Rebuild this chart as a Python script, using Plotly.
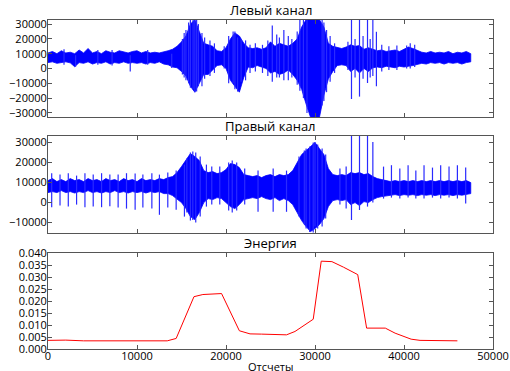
import plotly.graph_objects as go

# ---------------- data ----------------
left_x = [0, 500, 1000, 1500, 2000, 2500, 3000, 3500, 4000, 4500, 5000, 5500, 6000, 6500,
          7000, 7500, 8000, 8500, 9000, 9500, 10000, 10500, 11000, 11500, 12000, 12500,
          13000, 13500, 14000, 14500, 15000, 15500, 16000, 16500, 17000, 17500, 18000,
          18500, 19000, 19500, 20000, 20500, 21000, 21500, 22000, 22500, 23000, 23500,
          24000, 24500, 25000, 25500, 26000, 26500, 27000, 27500, 28000, 28500, 29000,
          29500, 30000, 30500, 31000, 31500, 32000, 32500, 33000, 33500, 34000, 34500,
          35000, 35500, 36000, 36500, 37000, 37500, 38000, 38500, 39000, 39500, 40000,
          40500, 41000, 41500, 42000, 42500, 43000, 43500, 44000, 44500, 45000, 45500,
          46000, 46500, 47000, 47500]
left_hi = [10500, 11500, 10000, 12000, 10500, 11000, 10000, 12500, 10500, 13500, 10500, 11500,
           10000, 12000, 11000, 10500, 12000, 11000, 10500, 11500, 12000, 10500, 11500, 10500,
           11000, 10500, 11000, 12000, 13000, 15000, 18000, 22000, 30000, 33000, 25000, 17000,
           16000, 15000, 12000, 11500, 14000, 20000, 24000, 22000, 17000, 14000, 13500, 14000,
           13000, 14000, 18000, 15000, 17000, 16000, 15000, 17000, 20000, 28000, 33000, 33000,
           33000, 33000, 28000, 17000, 15000, 14000, 13500, 14500, 16000, 15000, 15500, 13000,
           14000, 13000, 12000, 12500, 11500, 12000, 12500, 11500, 13000, 14500, 13500, 12000,
           11000, 10500, 11500, 10500, 11000, 10500, 11500, 10000, 11000, 10500, 11500, 10000]
left_lo = [4000, 4500, 3500, 4000, 4500, 3800, 1200, 4000, 3500, 4500, 3000, 4000,
           3500, 4500, 3000, 4000, 3500, 4500, 3500, 4000, 3500, 4000, 3000, 4000,
           3500, 4500, 3000, 2500, 1000, 500, -2000, -5000, -12000, -16000, -10000, -4000,
           -4000, -1000, 2000, 2500, 0, -8000, -12000, -16000, -6000, 1000, 500, 2000,
           1000, 0, -3000, -2000, -4000, -3000, -1000, -4000, -8000, -14000, -24000, -33000,
           -33000, -33000, -18000, -7000, -2000, 2000, 2500, 2000, -2000, 0, -3000, 0,
           -2000, 500, 1000, 500, 1500, 1000, 500, 1500, 1000, 1500, 2000, 2500,
           3500, 3000, 4000, 3500, 4000, 3000, 4000, 3500, 4000, 3000, 4000, 4500]
left_spike_x = [1800, 3100, 5600, 7200, 9240, 11200, 13900, 15100, 15300, 15500, 15800, 16000,
                16300, 16500, 16700, 16900, 17300, 17600, 18200, 18700, 19800, 20300, 20800,
                21000, 21300, 21700, 22200, 22700, 23300, 24100, 24700, 25200, 25700, 26000,
                26500, 27000, 27400, 28000, 28300, 28700, 29100, 30800, 31000, 31300, 31700,
                32200, 33700, 34100, 34500, 35000, 35400, 35900, 36200, 36500, 36900, 37500,
                38300, 39200, 40300, 40700, 41200]
left_spike_top = [13000, 9000, 12500, 12500, 9000, 12500, 10000, 20000, 24000, 26000, 31000, 33000,
                  33000, 33000, 33000, 30000, 24000, 21000, 19000, 17000, 15000, 22000, 25000,
                  25000, 21000, 20000, 19000, 16000, 17000, 16000, 19000, 29000, 23000, 21000,
                  26000, 22000, 20000, 25000, 33000, 33000, 33000, 33000, 31000, 26000, 22000,
                  17000, 18000, 33000, 20000, 33000, 22000, 33000, 20000, 33000, 24800, 16000,
                  15000, 15500, 15500, 17000, 16000]
left_spike_bot = [2500, 1200, 2500, 2000, -2000, 2500, 300, -4000, -6000, -8000, -10000, -13000,
                  -14000, -16000, -15500, -12000, -12000, -7000, -5000, -3000, 0, -10000, -10000,
                  -14000, -15600, -9000, -8000, -3000, -2000, -3000, -5000, -9000, -6000, -6000,
                  -8000, -8000, -6000, -11000, -15000, -20000, -30000, -25000, -22000, -16000, -9000,
                  -3000, -1000, -20600, -6000, -19000, -7000, -9800, -6000, -5000, -12000, -2000,
                  -1000, -1000, 0, 0, 1000]

right_x = left_x
right_hi = [11000, 12000, 10500, 11500, 10500, 12000, 11000, 11500, 10500, 12000, 11000, 11500,
            10500, 12000, 11000, 11500, 10500, 12000, 11000, 11500, 10500, 12000, 11000, 11500,
            11000, 12000, 11500, 12500, 13000, 15000, 18000, 21000, 24500, 23000, 21000, 16000,
            15000, 15500, 14500, 15000, 16500, 19500, 19000, 17500, 14000, 13500, 13000, 13500,
            12500, 13500, 14000, 13000, 14000, 13500, 14000, 16000, 20000, 24000, 26000, 28000,
            30000, 27000, 24000, 17000, 14000, 13500, 14000, 13500, 15000, 14500, 15000, 14000,
            14500, 13000, 12000, 11500, 11000, 10500, 11000, 10500, 11000, 10500, 11000, 10500,
            11000, 10500, 11000, 10500, 11000, 10500, 11000, 10500, 11000, 10500, 11000, 10000]
right_lo = [5000, 5500, 5000, 6000, 5000, 5500, 4800, 5500, 5000, 6000, 5000, 5500,
            4800, 5500, 5000, 6000, 5000, 5500, 4800, 5500, 5000, 5500, 4800, 5500,
            5000, 5500, 4500, 4500, 3500, 2000, 0, -3000, -7000, -8500, -5000, 0,
            2000, 1500, 2500, 2000, 0, -2000, -3000, -1000, 1500, 2000, 2500, 2000,
            3000, 2000, 1500, 2500, 1000, 2000, 1000, -1000, -5000, -9000, -12000, -14500,
            -13000, -11000, -8000, -2000, 1000, 1500, 1000, 1500, -1000, 0, -1500, 500,
            0, 1500, 2500, 3000, 3500, 3700, 4000, 3500, 4000, 3700, 4000, 3500,
            4000, 3700, 4000, 3500, 4000, 3700, 4000, 3500, 4000, 3700, 4000, 4500]
right_spike_x = [415, 1350, 2280, 3210, 4150, 5080, 6020, 6950, 7880, 8820, 9790, 10660, 11670,
                 12520, 13460, 14400, 15330, 15600, 16000, 16270, 16600, 17100, 17800, 18400,
                 19300, 20300, 20700, 21200, 22100, 23600, 25300, 26800, 28200, 28800, 29000,
                 29400, 29800, 30000, 30300, 30800, 31200, 32800, 33500, 34100, 35000, 35900,
                 36500, 37700, 38590, 39530, 40460, 41330, 42250, 43200, 44120, 45060, 46000,
                 46930]
right_spike_top = [14700, 14000, 14700, 13500, 14700, 14000, 14700, 14000, 14000, 14700, 14500,
                   14000, 14700, 14000, 15000, 16000, 19000, 22000, 25000, 25500, 25000, 23000,
                   19000, 18000, 18000, 20000, 21000, 20000, 17000, 16000, 17000, 16000, 23000,
                   26000, 27000, 28000, 30000, 30300, 29000, 27000, 24000, 17000, 18000, 33300,
                   33300, 33300, 30300, 18000, 18700, 17000, 18700, 16000, 18700, 17500, 18700,
                   18000, 18700, 17500]
right_spike_bot = [-2300, -1500, -2000, -1000, -2300, -2000, -2300, -1800, -2500, -3000, -3600,
                   -2500, -3000, -6100, -2500, -3600, -7000, -5000, -9000, -8700, -10000, -7000,
                   -2000, -1000, -1000, -4000, -5000, -4000, -1000, -4600, -4600, -4600, -7000,
                   -11000, -13000, -14700, -15000, -12000, -13000, -12000, -8000, -1000, -3000,
                   -8700, -3700, -2000, 0, 2000, 2500, 2000, 2500, 2000, 2000, 2500, 2000,
                   2500, 2000, -500]

energy_x = [0, 2000, 4000, 6000, 8000, 10000, 12000, 13400, 14400, 16400, 17400, 18600, 19500,
            21500, 22700, 24000, 26800, 27750, 28700, 29800, 30700, 31900, 33200, 34800, 35800,
            37900, 39000, 40800, 41800, 46000]
energy_y = [0.0036, 0.0037, 0.0034, 0.0034, 0.0034, 0.0034, 0.0035, 0.0034, 0.0044, 0.0218,
            0.0227, 0.0231, 0.0231, 0.0076, 0.0063, 0.0062, 0.0059, 0.0073, 0.0098, 0.0124,
            0.0366, 0.0364, 0.0341, 0.0310, 0.0087, 0.0087, 0.0066, 0.0041, 0.0036, 0.0034]

titles = ["Левый канал", "Правый канал", "Энергия"]
x_label = "Отсчеты"
x_ticks = [0, 10000, 20000, 30000, 40000, 50000]
left_ticks = [-30000, -20000, -10000, 0, 10000, 20000, 30000]
right_ticks = [-10000, 0, 10000, 20000, 30000]
energy_ticks = [0.0, 0.005, 0.010, 0.015, 0.020, 0.025, 0.030, 0.035, 0.040]

# ---------------- figure ----------------
BLUE = "#0000ff"
SPIKE = "#2a2aff"
FONT = "Open Sans, DejaVu Sans, sans-serif"

fig = go.Figure()


def add_wave(xs, hi, lo, sx, stop, sbot, xa, ya):
    fig.add_trace(go.Scatter(
        x=list(xs) + list(xs)[::-1], y=list(hi) + list(lo)[::-1],
        mode="lines", fill="toself", fillcolor=BLUE,
        line=dict(color=BLUE, width=0.8), xaxis=xa, yaxis=ya,
        hoverinfo="skip", showlegend=False))
    px, py = [], []
    for a, t, b in zip(sx, stop, sbot):
        px += [a, a, None]
        py += [t, b, None]
    fig.add_trace(go.Scatter(x=px, y=py, mode="lines",
                             line=dict(color=SPIKE, width=1.2), xaxis=xa, yaxis=ya,
                             hoverinfo="skip", showlegend=False))


add_wave(left_x, left_hi, left_lo, left_spike_x, left_spike_top, left_spike_bot, "x", "y")
add_wave(right_x, right_hi, right_lo, right_spike_x, right_spike_top, right_spike_bot, "x2", "y2")
fig.add_trace(go.Scatter(x=energy_x, y=energy_y, mode="lines",
                         line=dict(color="#ff0000", width=1), xaxis="x3", yaxis="y3",
                         hoverinfo="skip", showlegend=False))

H = 329.0
d1 = [(349 - 117) / H, 1.0]
d2 = [(349 - 233) / H, (349 - 136) / H]
d3 = [0.0, (349 - 253) / H]

axis_common = dict(showline=True, linecolor="#555555", linewidth=1, mirror="ticks",
                   ticks="inside", ticklen=4, tickcolor="#555555", showgrid=False,
                   zeroline=False, automargin=False,
                   tickfont=dict(family=FONT, size=11, color="black"))

fig.update_layout(
    width=510, height=371,
    margin=dict(l=48, r=17, t=20, b=22),
    paper_bgcolor="white", plot_bgcolor="white",
    font=dict(family=FONT, size=11, color="black"),
    xaxis=dict(domain=[0, 1], range=[0, 50000], tickvals=x_ticks, showticklabels=False,
               anchor="y", **axis_common),
    yaxis=dict(domain=d1, range=[-32768, 32767], tickvals=left_ticks, tickformat="d",
               ticklabelstandoff=-2, anchor="x", **axis_common),
    xaxis2=dict(domain=[0, 1], range=[0, 50000], tickvals=x_ticks, showticklabels=False,
                anchor="y2", **axis_common),
    yaxis2=dict(domain=d2, range=[-15200, 33300], tickvals=right_ticks, tickformat="d",
                ticklabelstandoff=-2, anchor="x2", **axis_common),
    xaxis3=dict(domain=[0, 1], range=[0, 50000], tickvals=x_ticks, tickformat="d",
                ticklabelstandoff=-3, anchor="y3", **axis_common),
    yaxis3=dict(domain=d3, range=[0, 0.04], tickvals=energy_ticks, tickformat=".3f",
                ticklabelstandoff=-2, anchor="x3", **axis_common),
)

for dom, t in zip([d1, d2, d3], titles):
    fig.add_annotation(text=t, x=0.5, y=dom[1], xref="paper", yref="paper",
                       xanchor="center", yanchor="bottom", showarrow=False, yshift=-1,
                       font=dict(family=FONT, size=13, color="black"))

fig.add_annotation(text=x_label, x=0.5, y=(349 - 366.5) / H, xref="paper", yref="paper",
                   xanchor="center", yanchor="middle", showarrow=False,
                   font=dict(family=FONT, size=11, color="black"))

fig.write_html("out.html", config={"displayModeBar": False},
               post_script="document.body.style.margin='0';document.body.style.overflow='hidden';")
